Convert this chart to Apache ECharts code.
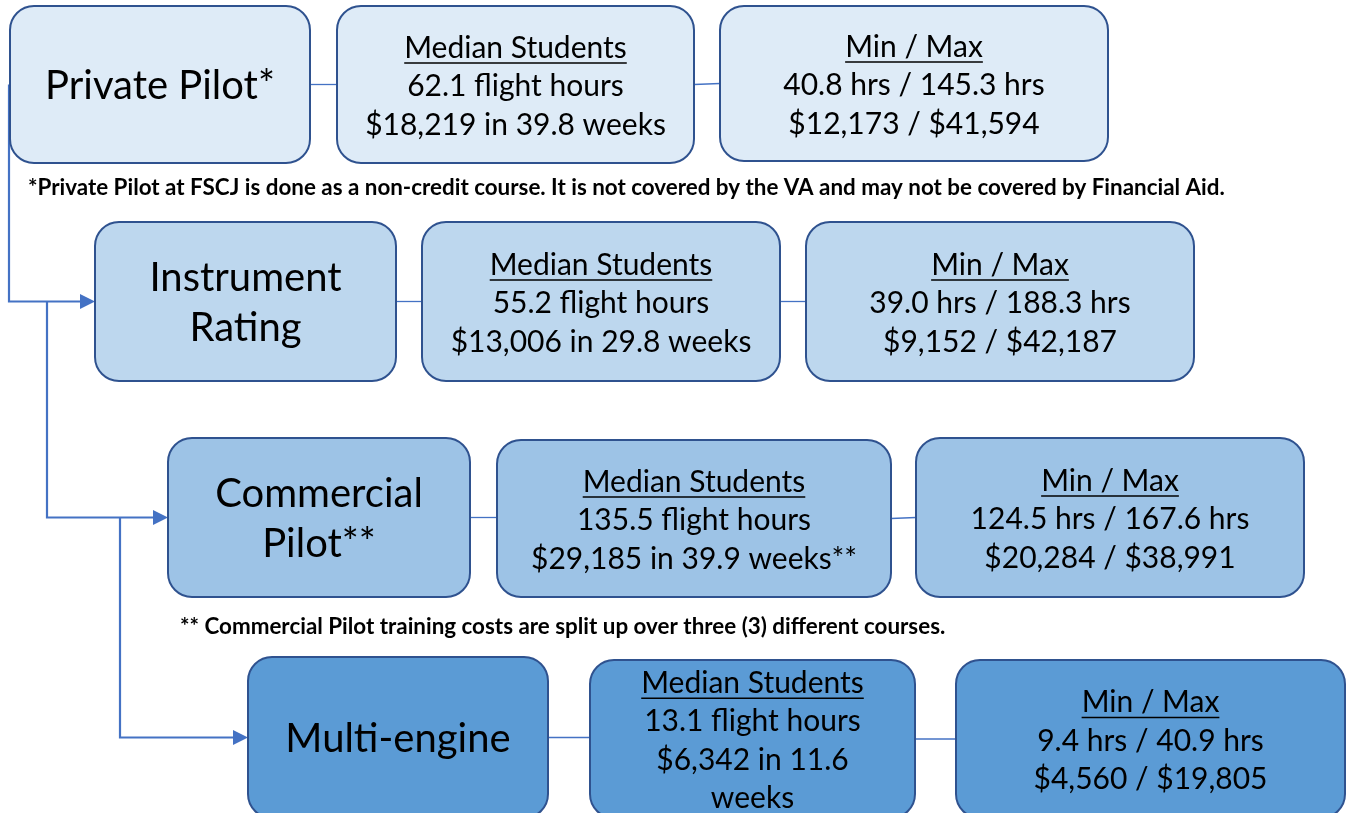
<!DOCTYPE html>
<html>
<head>
<meta charset="utf-8">
<script src="https://cdn.jsdelivr.net/npm/echarts@6/dist/echarts.min.js"></script>
<style>
  html, body { margin: 0; padding: 0; background: #fff; }
  #chart { width: 1349px; height: 813px; }
</style>
</head>
<body>
<div id="chart"></div>
<script>
// values
const stages = ['Private Pilot*', 'Instrument\nRating', 'Commercial\nPilot**', 'Multi-engine'];
const medianHours = [62.1, 55.2, 135.5, 13.1];
const medianCost = [18219, 13006, 29185, 6342];
const medianWeeks = [39.8, 29.8, 39.9, 11.6];
const weeksNote = ['', '', '**', ''];
const minHours = [40.8, 39.0, 124.5, 9.4];
const maxHours = [145.3, 188.3, 167.6, 40.9];
const minCost = [12173, 9152, 20284, 4560];
const maxCost = [41594, 42187, 38991, 19805];
const notes = [
  '*Private Pilot at FSCJ is done as a non-credit course. It is not covered by the VA and may not be covered by Financial Aid.',
  '** Commercial Pilot training costs are split up over three (3) different courses.'
];

// layout (pixel space of the hidden axes)
const W = 1349, H = 813;
const stageBoxes = [[10, 6, 310, 163], [95, 222, 396, 381], [168, 438, 470, 597], [248, 657, 548, 818]];
const medianBoxes = [[337, 6, 694, 163], [422, 222, 780, 381], [497, 440, 891, 597], [590, 660, 915, 818]];
const rangeBoxes = [[720, 6, 1108, 161], [806, 222, 1194, 381], [916, 438, 1304, 597], [956, 660, 1345, 818]];
const trunkX = [9, 47, 120];
const noteAnchors = [[28, 188], [180, 627]];
const fills = ['#deebf7', '#bdd7ee', '#9dc3e6', '#5b9bd5'];
const FONT = 'Lato';
const stageSize = 40, bodySize = 30, noteSize = 22.4;

const measure = document.createElement('canvas').getContext('2d');
function textWidth(t, font) { measure.font = font; return measure.measureText(t).width; }
function money(v) { return '$' + v.toLocaleString('en-US'); }
function wrap(line, font, maxW) {
  if (textWidth(line, font) <= maxW) return [line];
  const words = line.split(' '), out = [];
  let cur = '';
  words.forEach(w => {
    const t = cur ? cur + ' ' + w : w;
    if (cur && textWidth(t, font) > maxW) { out.push(cur); cur = w; } else cur = t;
  });
  out.push(cur);
  return out;
}

const boxData = [];
stages.forEach((s, i) => {
  [stageBoxes, medianBoxes, rangeBoxes].forEach((b, j) => {
    boxData.push([b[i][0], b[i][1], b[i][2], b[i][3], i, j]);
  });
});

function renderBox(params, api) {
  const row = api.value(4), col = api.value(5);
  const p0 = api.coord([api.value(0), api.value(1)]);
  const p1 = api.coord([api.value(2), api.value(3)]);
  const w = p1[0] - p0[0], h = p1[1] - p0[1];
  const cx = p0[0] + w / 2, cy = p0[1] + h / 2;
  const children = [{
    type: 'rect',
    shape: { x: p0[0], y: p0[1], width: w, height: h, r: 24 },
    style: { fill: fills[row], stroke: '#2f528f', lineWidth: 2 }
  }];
  let lines, size, lh, underline = false;
  if (col === 0) {
    lines = stages[row].split('\n');
    size = stageSize;
    lh = 50;
  } else {
    size = bodySize;
    lh = 38.5;
    underline = true;
    const f = size + 'px ' + FONT;
    if (col === 1) {
      lines = ['Median Students', medianHours[row].toFixed(1) + ' flight hours']
        .concat(wrap(money(medianCost[row]) + ' in ' + medianWeeks[row].toFixed(1) + ' weeks' + weeksNote[row], f, w - 46));
    } else {
      lines = ['Min / Max',
        minHours[row].toFixed(1) + ' hrs / ' + maxHours[row].toFixed(1) + ' hrs',
        money(minCost[row]) + ' / ' + money(maxCost[row])];
    }
  }
  const font = size + 'px ' + FONT;
  const y0 = cy + 2 - (lines.length - 1) * lh / 2;
  lines.forEach((t, k) => {
    const y = y0 + k * lh;
    children.push({
      type: 'text',
      style: { text: t, x: cx, y: y, fill: '#000', font: font, align: 'center', verticalAlign: 'middle' }
    });
    if (underline && k === 0) {
      const tw = textWidth(t, font);
      children.push({
        type: 'line',
        shape: { x1: cx - tw / 2, y1: y + size * 0.5, x2: cx + tw / 2, y2: y + size * 0.5 },
        style: { stroke: '#000', lineWidth: 1.5 }
      });
    }
  });
  return { type: 'group', children: children };
}

function midY(b) { return (b[1] + b[3]) / 2; }

function renderLinks(params, api) {
  const i = api.value(0);
  const c = (x, y) => api.coord([x, y]);
  const thin = { stroke: '#4472c4', lineWidth: 1.3 };
  const thick = { stroke: '#4472c4', lineWidth: 2.2, fill: null };
  const children = [];
  const sb = stageBoxes[i], mb = medianBoxes[i], rb = rangeBoxes[i];
  let a = c(sb[2], midY(sb)), b = c(mb[0], midY(sb));
  children.push({ type: 'line', shape: { x1: a[0], y1: a[1], x2: b[0], y2: b[1] }, style: thin });
  a = c(mb[2], midY(mb)); b = c(rb[0], midY(rb));
  children.push({ type: 'line', shape: { x1: a[0], y1: a[1], x2: b[0], y2: b[1] }, style: thin });
  if (i < stages.length - 1) {
    const nb = stageBoxes[i + 1];
    const tx = trunkX[i], ty = midY(nb);
    const pts = [c(tx, midY(sb)), c(tx, ty), c(nb[0] - 14, ty)];
    children.push({ type: 'polyline', shape: { points: pts }, style: thick });
    const tip = c(nb[0], ty), base = c(nb[0] - 15, ty);
    children.push({
      type: 'polygon',
      shape: { points: [tip, [base[0], base[1] - 7.5], [base[0], base[1] + 7.5]] },
      style: { fill: '#4472c4' }
    });
  }
  return { type: 'group', children: children };
}

function renderNote(params, api) {
  const p = api.coord([api.value(0), api.value(1)]);
  return {
    type: 'text',
    style: {
      text: notes[api.value(2)], x: p[0], y: p[1], fill: '#000',
      font: 'bold ' + noteSize + 'px ' + FONT, align: 'left', verticalAlign: 'middle'
    }
  };
}

const chart = echarts.init(document.getElementById('chart'));
chart.setOption({
  animation: false,
  grid: { left: 0, right: 0, top: 0, bottom: 0 },
  xAxis: { type: 'value', min: 0, max: W, show: false },
  yAxis: { type: 'value', min: 0, max: H, inverse: true, show: false },
  series: [
    {
      type: 'custom', z: 1, clip: false,
      data: stages.map((s, i) => [i]),
      renderItem: renderLinks
    },
    {
      type: 'custom', z: 2, clip: false,
      data: boxData,
      renderItem: renderBox
    },
    {
      type: 'custom', z: 3, clip: false,
      data: noteAnchors.map((p, i) => [p[0], p[1], i]),
      renderItem: renderNote
    }
  ]
});
</script>
</body>
</html>
